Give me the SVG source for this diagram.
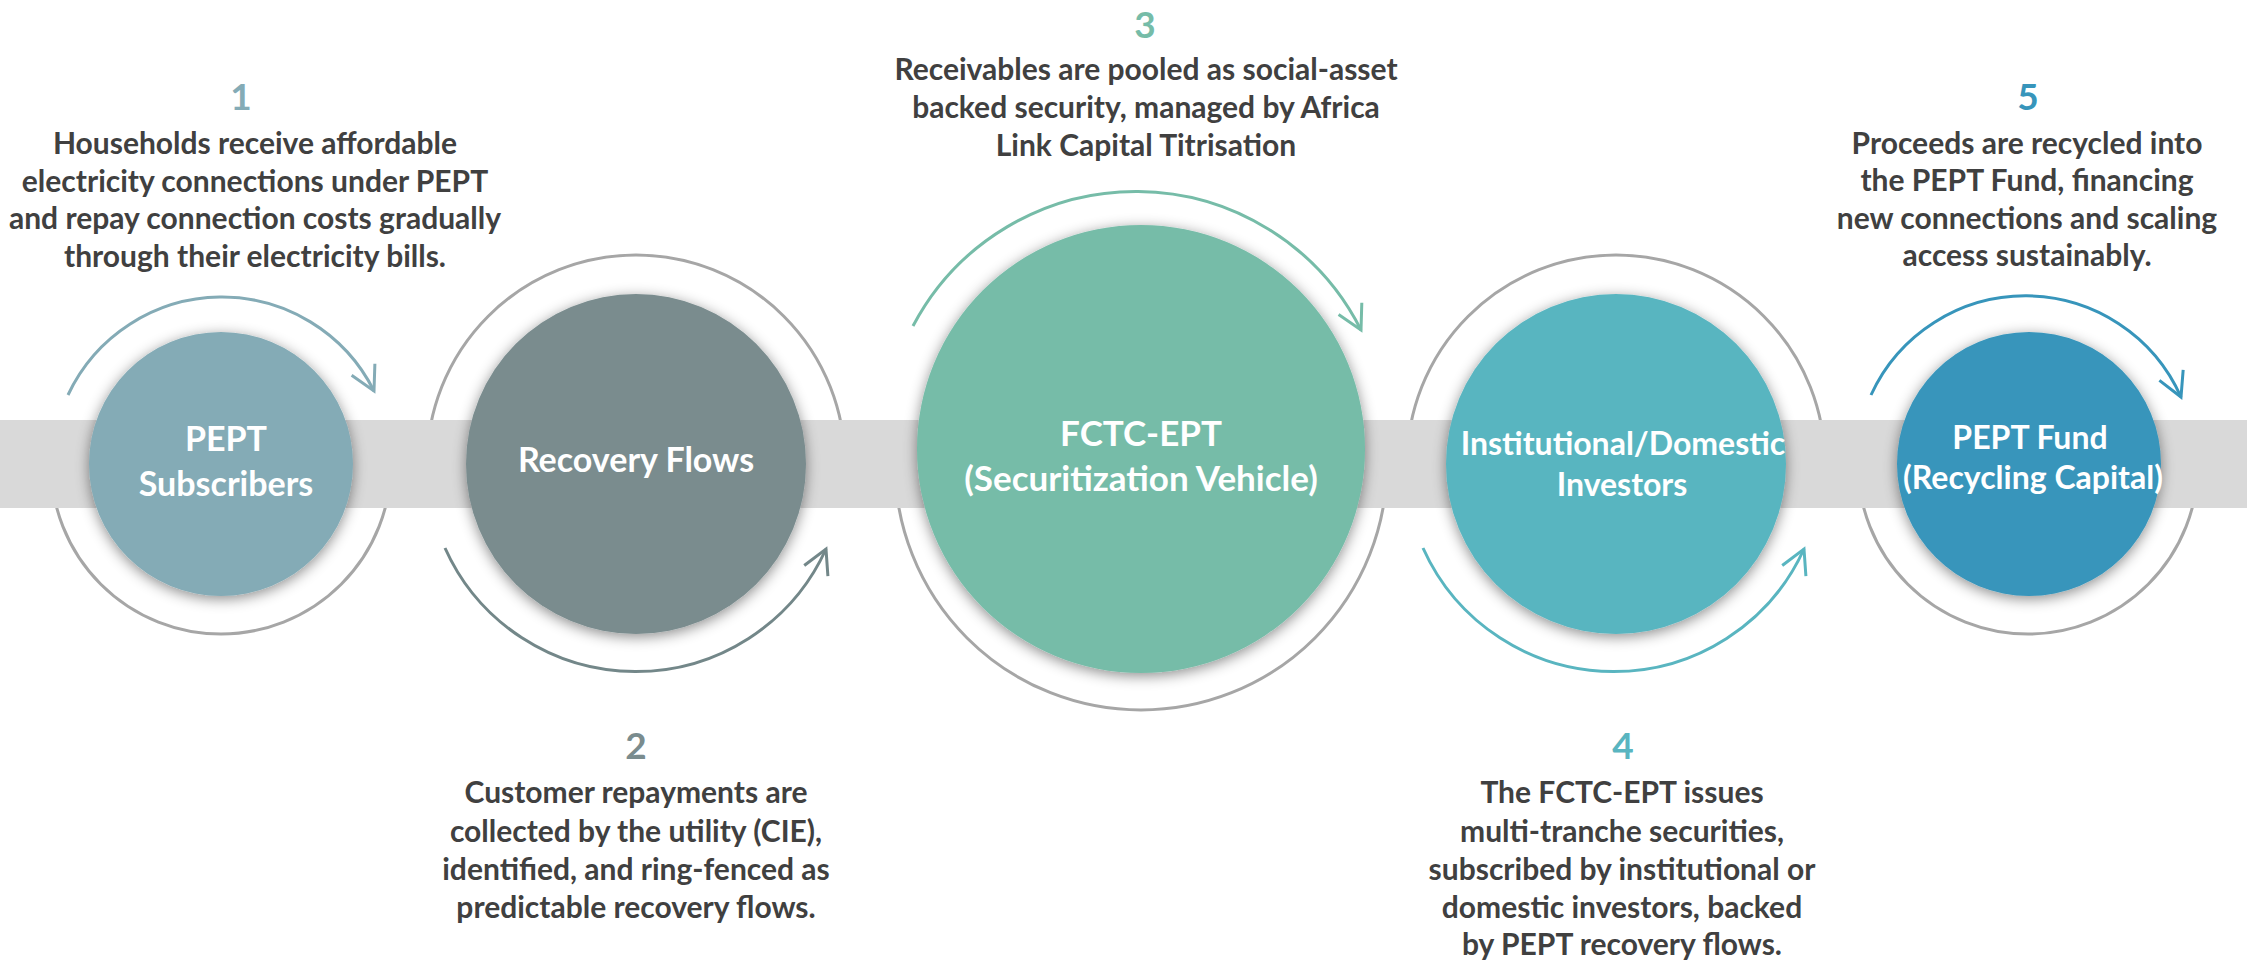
<svg xmlns="http://www.w3.org/2000/svg" width="2247" height="962" viewBox="0 0 2247 962">
<style>
.desc{font-family:Lato,"Liberation Sans",sans-serif;font-weight:700;font-size:30px;fill:#404040;text-anchor:middle}
.num{font-family:Lato,"Liberation Sans",sans-serif;font-weight:700;font-size:37px;text-anchor:middle}
.lbl{font-family:Lato,"Liberation Sans",sans-serif;font-weight:700;font-size:33px;fill:#ffffff;text-anchor:middle}
.ring{fill:none;stroke:#A6A6A6;stroke-width:3}
.arc{fill:none;stroke-width:3}
</style>
<defs>
<filter id="sh" x="-20%" y="-20%" width="140%" height="140%">
<feDropShadow dx="0" dy="3" stdDeviation="7" flood-color="#000" flood-opacity="0.45"/>
</filter>
<marker id="m1" markerUnits="userSpaceOnUse" markerWidth="40" markerHeight="40" refX="0" refY="0" viewBox="-30 -20 40 40" orient="auto"><path d="M-24,-13 L0,0 L-24,13" fill="none" stroke="#84ABB6" stroke-width="3"/></marker>
<marker id="m2" markerUnits="userSpaceOnUse" markerWidth="40" markerHeight="40" refX="0" refY="0" viewBox="-30 -20 40 40" orient="auto"><path d="M-24,-13 L0,0 L-24,13" fill="none" stroke="#738789" stroke-width="3"/></marker>
<marker id="m3" markerUnits="userSpaceOnUse" markerWidth="40" markerHeight="40" refX="0" refY="0" viewBox="-30 -20 40 40" orient="auto"><path d="M-24,-13 L0,0 L-24,13" fill="none" stroke="#76BCA8" stroke-width="3"/></marker>
<marker id="m4" markerUnits="userSpaceOnUse" markerWidth="40" markerHeight="40" refX="0" refY="0" viewBox="-30 -20 40 40" orient="auto"><path d="M-24,-13 L0,0 L-24,13" fill="none" stroke="#59B5C0" stroke-width="3"/></marker>
<marker id="m5" markerUnits="userSpaceOnUse" markerWidth="40" markerHeight="40" refX="0" refY="0" viewBox="-30 -20 40 40" orient="auto"><path d="M-24,-13 L0,0 L-24,13" fill="none" stroke="#3795BB" stroke-width="3"/></marker>
</defs>
<rect width="2247" height="962" fill="#ffffff"/>
<g id="connectors">
<path class="ring" d="M391,464 A170,170 0 0 1 51,464"/>
<path class="arc" stroke="#84ABB6" marker-end="url(#m1)" d="M68,395 A170,170 0 0 1 374,391"/>
<path class="ring" d="M427,464 A209,209 0 0 1 845,464"/>
<path class="arc" stroke="#738789" marker-end="url(#m2)" d="M445,548 A209,209 0 0 0 826,549"/>
<path class="ring" d="M1387,464 A246,246 0 0 1 895,464"/>
<path class="arc" stroke="#76BCA8" marker-end="url(#m3)" d="M913,326 A252,252 0 0 1 1361,330"/>
<path class="ring" d="M1407,464 A209,209 0 0 1 1825,464"/>
<path class="arc" stroke="#59B5C0" marker-end="url(#m4)" d="M1423,548 A209,209 0 0 0 1804,549"/>
<path class="ring" d="M2198,464 A170,170 0 0 1 1858,464"/>
<path class="arc" stroke="#3795BB" marker-end="url(#m5)" d="M1871,395 A170,170 0 0 1 2181,397"/>
</g>
<rect id="band" x="0" y="420" width="2247" height="88" fill="#D9D9D9"/>
<g id="node-1">
<circle cx="221" cy="464" r="132" fill="#84ABB6" filter="url(#sh)"/>
<text class="lbl" x="226" y="451" style="font-size:34px">PEPT</text>
<text class="lbl" x="226" y="496" style="font-size:34px">Subscribers</text>
<text class="num" x="241" y="110" fill="#84ABB6">1</text>
<text class="desc" x="255" y="154">Households receive affordable</text>
<text class="desc" x="255" y="192">electricity connections under PEPT</text>
<text class="desc" x="255" y="229">and repay connection costs gradually</text>
<text class="desc" x="255" y="267">through their electricity bills.</text>
</g>
<g id="node-2">
<circle cx="636" cy="464" r="170" fill="#7A8C8E" filter="url(#sh)"/>
<text class="lbl" x="636" y="472" style="font-size:34px">Recovery Flows</text>
<text class="num" x="636" y="759" fill="#7A8C8E">2</text>
<text class="desc" x="636" y="803">Customer repayments are</text>
<text class="desc" x="636" y="842">collected by the utility (CIE),</text>
<text class="desc" x="636" y="880">identified, and ring-fenced as</text>
<text class="desc" x="636" y="918">predictable recovery flows.</text>
</g>
<g id="node-3">
<circle cx="1141" cy="449" r="224" fill="#76BCA8" filter="url(#sh)"/>
<text class="lbl" x="1141" y="446" style="font-size:35px">FCTC-EPT</text>
<text class="lbl" x="1141" y="491" style="font-size:35px">(Securitization Vehicle)</text>
<text class="num" x="1145" y="38" fill="#76BCA8">3</text>
<text class="desc" x="1146" y="80">Receivables are pooled as social-asset</text>
<text class="desc" x="1146" y="118">backed security, managed by Africa</text>
<text class="desc" x="1146" y="156">Link Capital Titrisation</text>
</g>
<g id="node-4">
<circle cx="1616" cy="464" r="170" fill="#59B5C0" filter="url(#sh)"/>
<text class="lbl" x="1623" y="455" style="font-size:32px">Institutional/Domestic</text>
<text class="lbl" x="1622" y="496" style="font-size:32px">Investors</text>
<text class="num" x="1623" y="759" fill="#59B5C0">4</text>
<text class="desc" x="1622" y="803">The FCTC-EPT issues</text>
<text class="desc" x="1622" y="842">multi-tranche securities,</text>
<text class="desc" x="1622" y="880">subscribed by institutional or</text>
<text class="desc" x="1622" y="918">domestic investors, backed</text>
<text class="desc" x="1622" y="955">by PEPT recovery flows.</text>
</g>
<g id="node-5">
<circle cx="2029" cy="464" r="132" fill="#3795BB" filter="url(#sh)"/>
<text class="lbl" x="2030" y="449" style="font-size:32px">PEPT Fund</text>
<text class="lbl" x="2033" y="489" style="font-size:32px">(Recycling Capital)</text>
<text class="num" x="2028" y="110" fill="#3795BB">5</text>
<text class="desc" x="2027" y="154">Proceeds are recycled into</text>
<text class="desc" x="2027" y="191">the PEPT Fund, financing</text>
<text class="desc" x="2027" y="229">new connections and scaling</text>
<text class="desc" x="2027" y="266">access sustainably.</text>
</g>
</svg>
